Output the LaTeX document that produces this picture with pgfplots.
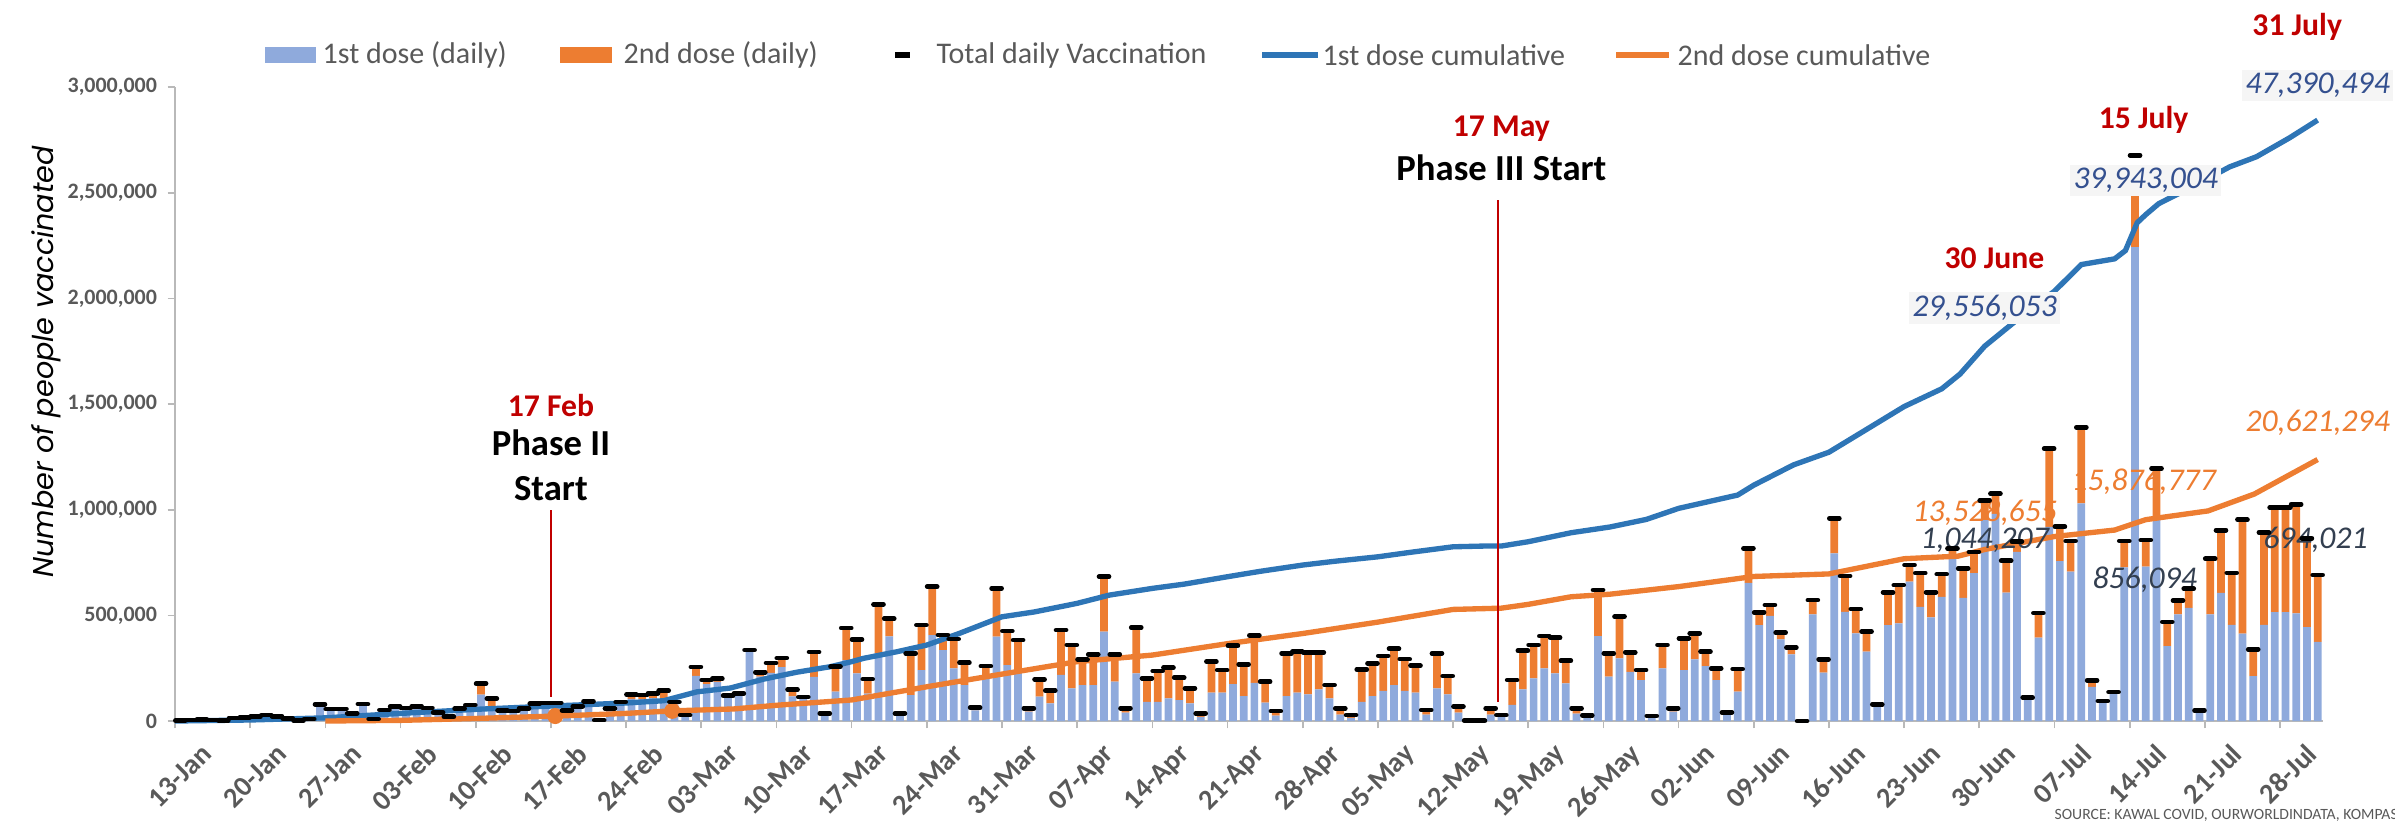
\documentclass[border=0pt]{standalone}
\usepackage{fontspec}
\setmainfont{Carlito}
\newfontfamily\gothicfont{Poppins}
\usepackage{pgfplots}
\usepackage{pgfplotstable}
\pgfplotsset{compat=1.18}
\usetikzlibrary{calc}
\definecolor{dose1}{HTML}{8FAADC}
\definecolor{dose2}{HTML}{ED7D31}
\definecolor{cum1}{HTML}{2E75B6}
\definecolor{cum2}{HTML}{ED7D31}
\definecolor{annred}{HTML}{C00000}
\definecolor{axgrey}{HTML}{595959}
\definecolor{lblblue}{HTML}{34508F}
\definecolor{lbldark}{HTML}{333F50}

\pgfplotstableread{
x d1 d2 tot
0.5 2 0 2
1.5 5 0 5
2.5 6 0 6
3.5 4 0 4
4.5 3 0 3
5.5 15 0 15
6.5 18 0 18
7.5 22 0 22
8.5 28 0 28
9.5 22 0 22
10.5 12 0 12
11.5 2 0 2
12.5 10 0 10
13.5 79 0 79
14.5 52 5 57
15.5 52 5 57
16.5 34 3 37
17.5 78 2 80
18.5 8 2 10
19.5 48 4 52
20.5 62 6 68
21.5 56 6 62
22.5 62 8 70
23.5 55 7 62
24.5 35 4 39
25.5 18 2 20
26.5 50 8 58
27.5 65 10 75
28.5 125 52 177
29.5 68 38 106
30.5 42 8 50
31.5 40 7 47
32.5 52 8 60
33.5 72 10 82
34.5 74 11 85
35.5 74 12 86
36.5 42 8 50
37.5 60 10 70
38.5 80 13 93
39.5 3 1 4
40.5 52 8 60
41.5 78 12 90
42.5 105 20 125
43.5 103 20 123
44.5 108 23 131
45.5 100 43 143
46.5 78 12 90
47.5 24 4 28
48.5 213 43 256
49.5 175 19 194
50.5 185 15 200
51.5 112 8 120
52.5 122 8 130
53.5 330 6 336
54.5 210 21 231
55.5 228 47 275
56.5 255 43 298
57.5 116 32 148
58.5 103 10 113
59.5 209 118 327
60.5 30 6 36
61.5 139 118 257
62.5 288 152 440
63.5 225 161 386
64.5 130 68 198
65.5 320 232 552
66.5 400 84 484
67.5 25 11 36
68.5 123 197 320
69.5 241 213 454
70.5 407 229 636
71.5 336 71 407
72.5 249 139 388
73.5 170 106 276
74.5 50 13 63
75.5 217 43 260
76.5 399 229 628
77.5 265 161 426
78.5 241 142 383
79.5 45 15 60
80.5 115 82 197
81.5 84 60 144
82.5 218 212 430
83.5 155 205 360
84.5 170 122 292
85.5 170 145 315
86.5 423 260 683
87.5 186 129 315
88.5 40 20 60
89.5 225 217 442
90.5 91 111 202
91.5 91 146 237
92.5 107 145 252
93.5 99 106 205
94.5 84 71 155
95.5 20 16 36
96.5 134 147 281
97.5 134 107 241
98.5 175 181 356
99.5 118 150 268
100.5 181 224 405
101.5 87 99 186
102.5 25 22 47
103.5 118 202 320
104.5 134 194 328
105.5 126 199 325
106.5 150 175 325
107.5 107 63 170
108.5 30 30 60
109.5 15 13 28
110.5 91 153 244
111.5 118 155 273
112.5 143 165 308
113.5 170 172 342
114.5 143 150 293
115.5 134 128 262
116.5 30 22 52
117.5 155 165 320
118.5 126 87 213
119.5 40 28 68
120.5 1 1 2
121.5 1 1 2
122.5 30 30 60
123.5 20 8 28
124.5 76 118 194
125.5 150 183 333
126.5 202 158 360
127.5 249 153 402
128.5 225 169 394
129.5 178 107 285
130.5 35 25 60
131.5 15 12 27
132.5 402 218 620
133.5 210 110 320
134.5 296 198 494
135.5 233 92 325
136.5 194 47 241
137.5 15 9 24
138.5 249 111 360
139.5 45 15 60
140.5 241 150 391
141.5 292 123 415
142.5 260 68 328
143.5 194 55 249
144.5 30 11 41
145.5 139 107 246
146.5 654 163 817
147.5 454 60 514
148.5 497 52 549
149.5 386 32 418
150.5 315 32 347
151.5 0 0 0
152.5 505 67 572
153.5 229 63 292
154.5 793 166 959
155.5 517 169 686
156.5 415 115 530
157.5 328 95 423
158.5 70 9 79
159.5 454 155 609
160.5 462 181 643
161.5 659 79 738
162.5 540 160 700
163.5 490 119 609
164.5 588 107 695
165.5 790 27 817
166.5 583 139 722
167.5 700 100 800
168.5 950 94 1044
169.5 980 95 1075
170.5 607 151 758
171.5 800 48 848
172.5 100 11 111
173.5 394 117 511
174.5 919 370 1289
175.5 757 162 919
176.5 707 145 852
177.5 1030 360 1390
178.5 162 30 192
179.5 85 10 95
180.5 130 7 137
181.5 727 125 852
182.5 2242 246 2677
183.5 731 125 856
184.5 960 230 1195
185.5 354 115 469
186.5 505 65 570
187.5 535 91 626
188.5 45 5 50
189.5 505 263 768
190.5 606 297 903
191.5 455 246 701
192.5 414 539 953
193.5 212 127 339
194.5 455 438 893
195.5 515 495 1010
196.5 515 495 1010
197.5 509 517 1026
198.5 444 420 864
199.5 374 317 691
}\daily

\begin{document}
\begin{tikzpicture}
% ---------- bars ----------
\begin{axis}[
  at={(0pt,0pt)}, anchor=south west,
  scale only axis, width=644.4pt, height=190.2pt,
  xmin=0, xmax=200, ymin=0, ymax=3000, enlargelimits=false,
  ybar stacked, bar width=0.72,
  axis x line*=bottom, axis y line*=left,
  axis line style={draw=gray!55, line width=0.6pt, -},
  tick align=outside, major tick length=2.2pt,
  tick style={draw=gray!55, line width=0.5pt},
  xtick={0,7,...,196},
  xticklabels={13-Jan,20-Jan,27-Jan,03-Feb,10-Feb,17-Feb,24-Feb,03-Mar,10-Mar,17-Mar,24-Mar,31-Mar,07-Apr,14-Apr,21-Apr,28-Apr,05-May,12-May,19-May,26-May,02-Jun,09-Jun,16-Jun,23-Jun,30-Jun,07-Jul,14-Jul,21-Jul,28-Jul},
  xticklabel style={rotate=45, anchor=north east, xshift=3pt, yshift=-7.5pt, font=\fontsize{8.5}{9}\selectfont\bfseries, text=axgrey, inner sep=0.5pt},
  ytick={0,500,1000,1500,2000,2500,3000},
  yticklabels={0,{500,000},{1,000,000},{1,500,000},{2,000,000},{2,500,000},{3,000,000}},
  yticklabel style={font=\fontsize{6.6}{8}\selectfont\bfseries, text=axgrey, inner sep=1.5pt, xshift=-1.5pt},
  clip=false,
]
\addplot[fill=dose1, draw=none] table[x=x, y=d1]{\daily};
\addplot[fill=dose2, draw=none] table[x=x, y=d2]{\daily};
\end{axis}

% ---------- cumulative lines (hidden axis, 0-50 million) ----------
\begin{axis}[
  at={(0pt,0pt)}, anchor=south west,
  scale only axis, width=644.4pt, height=190.2pt,
  xmin=0, xmax=200, ymin=0, ymax=50, hide axis, clip=false,
]
\addplot[cum1, line width=1.6pt] coordinates {
(0,0) (7,0.08) (14,0.25) (21,0.6) (28,0.92) (35,1.18) (42,1.42) (45.5,1.6)
(48.6,2.3) (51.7,2.6) (54.8,3.3) (57.9,3.85) (61,4.28) (63,4.68) (64.1,4.94)
(67.2,5.46) (70,5.99) (73,6.9) (77,8.22) (80,8.6) (84,9.28) (87,9.93) (91,10.46)
(94,10.8) (98,11.38) (101,11.8) (105,12.3) (108,12.6) (112,12.95) (115,13.3)
(119,13.74) (122,13.8) (123.5,13.8) (126,14.14) (130,14.85) (133.6,15.3) (137,15.9)
(140,16.77) (145.5,17.82) (147,18.6) (150.7,20.2) (154,21.2) (157.7,23.1) (161,24.8)
(164.5,26.2) (166.2,27.36) (168.5,29.56) (172.4,32.25) (175,33.9) (177.5,36.0)
(180.6,36.45) (181.6,37.1) (182.7,39.3) (183.5,39.94) (184.7,40.8) (188.2,42.3)
(191.3,43.7) (193.8,44.5) (196.9,46.0) (199.5,47.39)};
\addplot[cum2, line width=1.6pt] coordinates {
(14,0) (21,0.05) (28,0.2) (35.5,0.39) (42,0.6) (46.3,0.8) (52,0.95) (56.3,1.26)
(63,1.66) (70,2.7) (77,3.7) (84,4.68) (91,5.2) (98,6.1) (105,6.9) (112,7.8)
(119,8.8) (123.5,8.9) (126,9.2) (130,9.8) (133.6,10.0) (140,10.6) (147,11.4)
(154,11.6) (161,12.8) (166,13.0) (168.5,13.53) (175,14.55) (180.6,15.06)
(183.5,15.88) (189.3,16.57) (193.6,17.9) (199.5,20.62)};
\addplot[only marks, mark=*, mark size=2.2pt, color=cum2] coordinates {(35.4,0.39) (46.3,0.8)};
\end{axis}

% ---------- totals + annotations (hidden axis, thousands) ----------
\begin{axis}[
  at={(0pt,0pt)}, anchor=south west,
  scale only axis, width=644.4pt, height=190.2pt,
  xmin=0, xmax=200, ymin=0, ymax=3000, hide axis, clip=false,
]
\addplot[only marks, mark=-, mark size=1.5pt, mark options={line width=1.4pt, black, line cap=round}] table[x=x, y=tot]{\daily};

\draw[annred, line width=0.45pt] (axis cs:35,114) -- (axis cs:35,998);
\node[text=annred, font=\fontsize{9.5}{11}\selectfont\bfseries] at (axis cs:35,1495) {17 Feb};
\node[font=\fontsize{11}{13}\selectfont\bfseries] at (axis cs:35,1315) {Phase II};
\node[font=\fontsize{11}{13}\selectfont\bfseries] at (axis cs:35,1102) {Start};

\draw[annred, line width=0.45pt] (axis cs:123.2,91) -- (axis cs:123.2,2465);
\node[text=annred, font=\fontsize{9.5}{11}\selectfont\bfseries] at (axis cs:123.5,2805) {17 May};
\node[font=\fontsize{11}{13}\selectfont\bfseries] at (axis cs:123.5,2616) {Phase III Start};

\node[text=annred, font=\fontsize{9.5}{11}\selectfont\bfseries] at (axis cs:169.4,2190) {30 June};
\node[text=lblblue, fill=gray!8, inner sep=1pt, font=\fontsize{9.5}{11}\selectfont\itshape] at (axis cs:168.5,1954) {29,556,053};
\node[text=annred, font=\fontsize{9.5}{11}\selectfont\bfseries] at (axis cs:183.3,2843) {15 July};
\node[text=lblblue, fill=gray!8, inner sep=1pt, font=\fontsize{9.5}{11}\selectfont\itshape] at (axis cs:183.5,2559) {39,943,004};
\node[text=annred, font=\fontsize{9.5}{11}\selectfont\bfseries] at (axis cs:197.6,3283) {31 July};
\node[text=lblblue, fill=gray!8, inner sep=1pt, font=\fontsize{9.5}{11}\selectfont\itshape] at (axis cs:199.5,3008) {47,390,494};

\node[text=cum2, font=\fontsize{9.5}{11}\selectfont\itshape] at (axis cs:199.5,1410) {20,621,294};
\node[text=cum2, font=\fontsize{9.5}{11}\selectfont\itshape] at (axis cs:183.3,1131) {15,876,777};
\node[text=cum2, font=\fontsize{9.5}{11}\selectfont\itshape] at (axis cs:168.5,984) {13,528,655};
\node[text=lbldark, font=\fontsize{9.5}{11}\selectfont\itshape] at (axis cs:168.5,856) {1,044,207};
\node[text=lbldark, font=\fontsize{9.5}{11}\selectfont\itshape] at (axis cs:183.4,667) {856,094};
\node[text=lbldark, font=\fontsize{9.5}{11}\selectfont\itshape] at (axis cs:199.3,856) {694,021};
\end{axis}

% ---------- legend ----------
\begin{scope}[font=\fontsize{9}{10}\selectfont, text=axgrey]
\fill[dose1] (27pt,197.5pt) rectangle (42.3pt,202.1pt);
\node[anchor=west, inner sep=0pt, text=axgrey] at (44.1pt,199.8pt) {1st dose (daily)};
\fill[dose2] (115.5pt,197.5pt) rectangle (131.1pt,202.1pt);
\node[anchor=west, inner sep=0pt, text=axgrey] at (134.4pt,199.8pt) {2nd dose (daily)};
\draw[black, line width=1.6pt] (216pt,199.8pt) -- (220.5pt,199.8pt);
\node[anchor=west, inner sep=0pt, text=axgrey] at (228.3pt,199.8pt) {Total daily Vaccination};
\draw[cum1, line width=1.6pt] (326.1pt,199.8pt) -- (342.9pt,199.8pt);
\node[anchor=west, inner sep=0pt, text=axgrey] at (344.1pt,199.8pt) {1st dose cumulative};
\draw[cum2, line width=1.6pt] (432.3pt,199.8pt) -- (448.2pt,199.8pt);
\node[anchor=west, inner sep=0pt, text=axgrey] at (450.6pt,199.8pt) {2nd dose cumulative};
\end{scope}

% ---------- axis title and source ----------
\node[rotate=90, font=\gothicfont\itshape\fontsize{8.6}{10}\selectfont] at (-38.7pt,107.7pt) {Number of people vaccinated};
\node[anchor=west, inner sep=0pt, text=axgrey, font=\fontsize{4.7}{6}\selectfont] at (563.7pt,-28.2pt) {SOURCE: KAWAL COVID, OURWORLDINDATA, KOMPAS};

\pgfresetboundingbox
\path[use as bounding box] (-52.5pt,-30.9pt) rectangle (666pt,216.3pt);
\end{tikzpicture}
\end{document}
